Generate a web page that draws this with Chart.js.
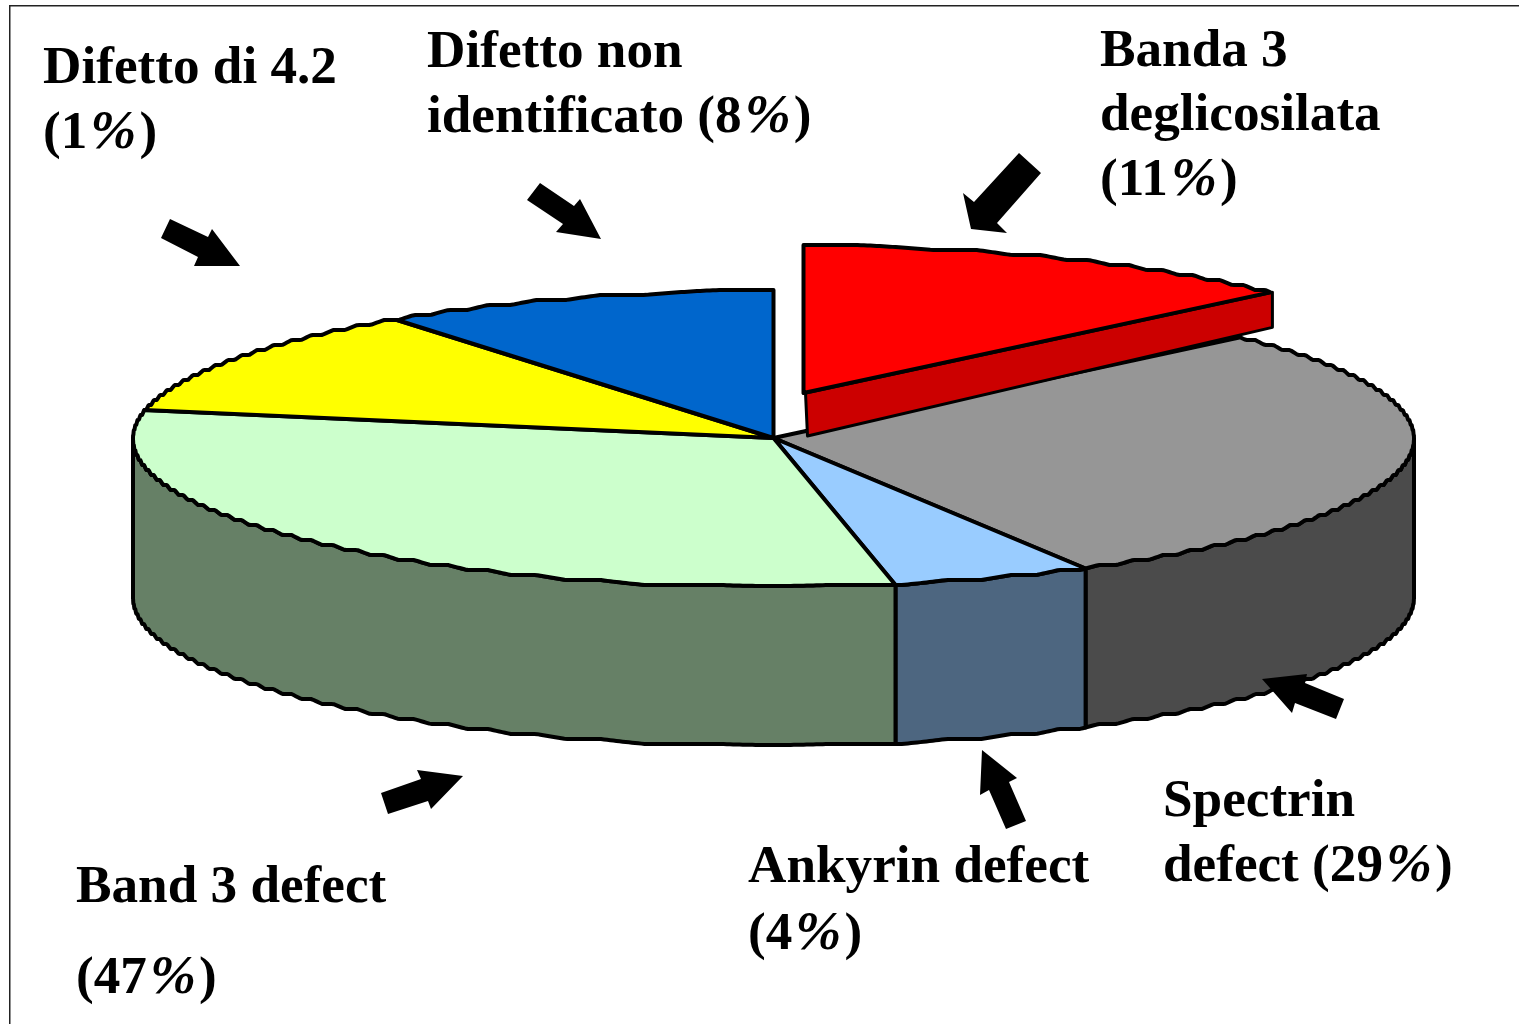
<!DOCTYPE html>
<html>
<head>
<meta charset="utf-8">
<title>Difetti di membrana</title>
<script src="https://cdn.jsdelivr.net/npm/chart.js@4"></script>
<style>
  html, body { margin: 0; background: #fff; overflow: hidden; }
  #wrap { position: relative; width: 1519px; height: 1024px; }
  canvas { position: absolute; left: 0; top: 0; }
  .lbl { position: absolute; font: bold 53.2px "Liberation Serif", serif; color: #000; white-space: pre; }
  .lbl .pc { font-style: italic; font-size: 1.04em; letter-spacing: 3px; margin-left: 3px; }
</style>
</head>
<body>
<div id="wrap"><canvas id="pie" width="1519" height="1024"></canvas></div>
<script>
// order follows the pie clockwise from 12 o'clock
const categories = ['Banda 3 deglicosilata', 'Spectrin defect', 'Ankyrin defect', 'Band 3 defect', 'Difetto di 4.2', 'Difetto non identificato'];
// share of the circle as it is drawn in the picture (the printed % differ)
const sliceShares = [13, 28.9, 5.05, 31.05, 12, 10];
const printedPercents = [11, 29, 4, 47, 1, 8];
const topColors = ['#ff0000', '#969696', '#99ccff', '#ccffcc', '#ffff00', '#0066cc'];
const wallColors = ['#cc0000', '#4b4b4b', '#4d6680', '#668066', '#999900', '#003d7a'];

const labelLines = [
    ['Banda 3', 'deglicosilata', '(11%)'],
    ['Spectrin', 'defect (29%)'],
    ['Ankyrin defect', '(4%)'],
    ['Band 3 defect', '(47%)'],
    ['Difetto di 4.2', '(1%)'],
    ['Difetto non', 'identificato (8%)']
];
// left, first baseline, line gap
const labelPos = [
    [1100, 66, 64],
    [1163, 816, 64],
    [748, 882, 66],
    [76, 902, 90],
    [43, 83, 64],
    [427, 67, 64]
];

const arrows = [
    [[170, 219], [208, 237], [212, 229], [240, 266], [194, 266], [198, 257], [161, 238]],
    [[540, 183], [574, 206], [580, 199], [601, 239], [556, 232], [563, 224], [527, 200]],
    [[1019, 153], [1041, 173], [997, 223], [1007, 233], [971, 229], [963, 193], [974, 202]],
    [[1262, 679], [1307, 674], [1305, 683], [1344, 699], [1336, 719], [1295, 703], [1292, 713]],
    [[982, 750], [1017, 778], [1009, 782], [1026, 821], [1006, 829], [989, 790], [980, 795]],
    [[381, 793], [421, 779], [417, 770], [463, 776], [431, 809], [428, 801], [388, 814]]
];

const RX = 640.5, RY = 148, DEPTH = 159;    // ellipse of the top face, wall height
const PULL_X = 30, PULL_Y = -45;            // where the red slice is pulled to
const RED_NEAR = 43, RED_FAR = 35;          // its wall is thinner than the others
const STEP = 5;                             // the source has a stepped rim

function stepped(y) {
    const n = Math.floor(y / STEP), f = y / STEP - n;
    return STEP * (n + (f < 0.5 ? 0 : (f - 0.5) / 0.5)) + 2;
}

function rimPoints(cx, cy, a0, a1) {
    const pts = [];
    const n = Math.max(2, Math.ceil(Math.abs(a1 - a0) / 0.005));
    for (let i = 0; i <= n; i++) {
        const a = a0 + (a1 - a0) * i / n;
        pts.push([cx + RX * Math.cos(a), cy + stepped(RY * Math.sin(a))]);
    }
    return pts;
}

function tracePoly(ctx, pts, fill, stroke, width) {
    ctx.beginPath();
    pts.forEach((p, i) => i ? ctx.lineTo(p[0], p[1]) : ctx.moveTo(p[0], p[1]));
    ctx.closePath();
    ctx.fillStyle = fill;
    ctx.fill();
    if (stroke) {
        ctx.strokeStyle = stroke;
        ctx.lineWidth = width;
        ctx.lineJoin = 'round';
        ctx.stroke();
    }
}

// the arcs keep their angles and centre from the doughnut controller,
// only the way they are painted is changed to a tilted disc
const tiltedDisc = {
    id: 'tiltedDisc',
    beforeDatasetsDraw(chart) {
        const ctx = chart.ctx;
        const arcs = chart.getDatasetMeta(0).data;

        // frame of the slide
        ctx.save();
        ctx.fillStyle = '#222';
        ctx.fillRect(9, 5, 1510, 1.5);
        ctx.fillRect(9, 5, 1.5, 1019);

        arcs.forEach((arc, i) => {
            if (i === 0) return;
            const a0 = Math.max(arc.startAngle, 0), a1 = Math.min(arc.endAngle, Math.PI);
            if (a1 <= a0) return;
            const front = rimPoints(arc.x, arc.y, a0, a1);
            const back = rimPoints(arc.x, arc.y + DEPTH, a1, a0);
            tracePoly(ctx, front.concat(back), wallColors[i], '#000', 4);
        });
        arcs.forEach((arc, i) => {
            if (i === 0) return;
            const rim = rimPoints(arc.x, arc.y, arc.startAngle, arc.endAngle);
            tracePoly(ctx, [[arc.x, arc.y]].concat(rim), topColors[i], '#000', 4);
        });

        // pulled out slice
        const red = arcs[0];
        const tx = red.x + PULL_X, ty = red.y + PULL_Y;
        const rim = rimPoints(tx, ty, red.startAngle, red.endAngle);
        const end = rim[rim.length - 1];
        tracePoly(ctx, [[tx + 2, ty], [end[0] + 2, end[1]], [end[0] + 2, end[1] + RED_FAR], [tx + 4, ty + RED_NEAR]], wallColors[0], '#000', 3);
        tracePoly(ctx, [[tx, ty]].concat(rim), topColors[0], '#000', 4);

        arrows.forEach(a => tracePoly(ctx, a, '#000'));
        ctx.restore();
        return false;
    }
};

new Chart(document.getElementById('pie'), {
    type: 'pie',
    data: {
        labels: categories,
        datasets: [{
            data: sliceShares,
            backgroundColor: topColors,
            borderColor: '#000',
            borderWidth: 3
        }]
    },
    options: {
        responsive: false,
        animation: false,
        layout: { padding: { left: 28, bottom: 148 } },
        plugins: {
            legend: { display: false },
            tooltip: { enabled: false }
        }
    },
    plugins: [tiltedDisc]
});

// labels are plain text on top of the canvas
const wrap = document.getElementById('wrap');
labelLines.forEach((lines, i) => {
    const [left, base, gap] = labelPos[i];
    lines.forEach((line, j) => {
        const el = document.createElement('div');
        el.className = 'lbl';
        el.style.left = left + 'px';
        el.style.lineHeight = '64px';
        el.style.top = (base + j * gap - 49) + 'px';
        const pc = line.indexOf('%');
        if (pc >= 0) {
            el.append(line.slice(0, pc));
            const s = document.createElement('span');
            s.className = 'pc';
            s.textContent = '%';
            el.append(s, line.slice(pc + 1));
        } else {
            el.textContent = line;
        }
        wrap.appendChild(el);
    });
});
</script>
</body>
</html>
